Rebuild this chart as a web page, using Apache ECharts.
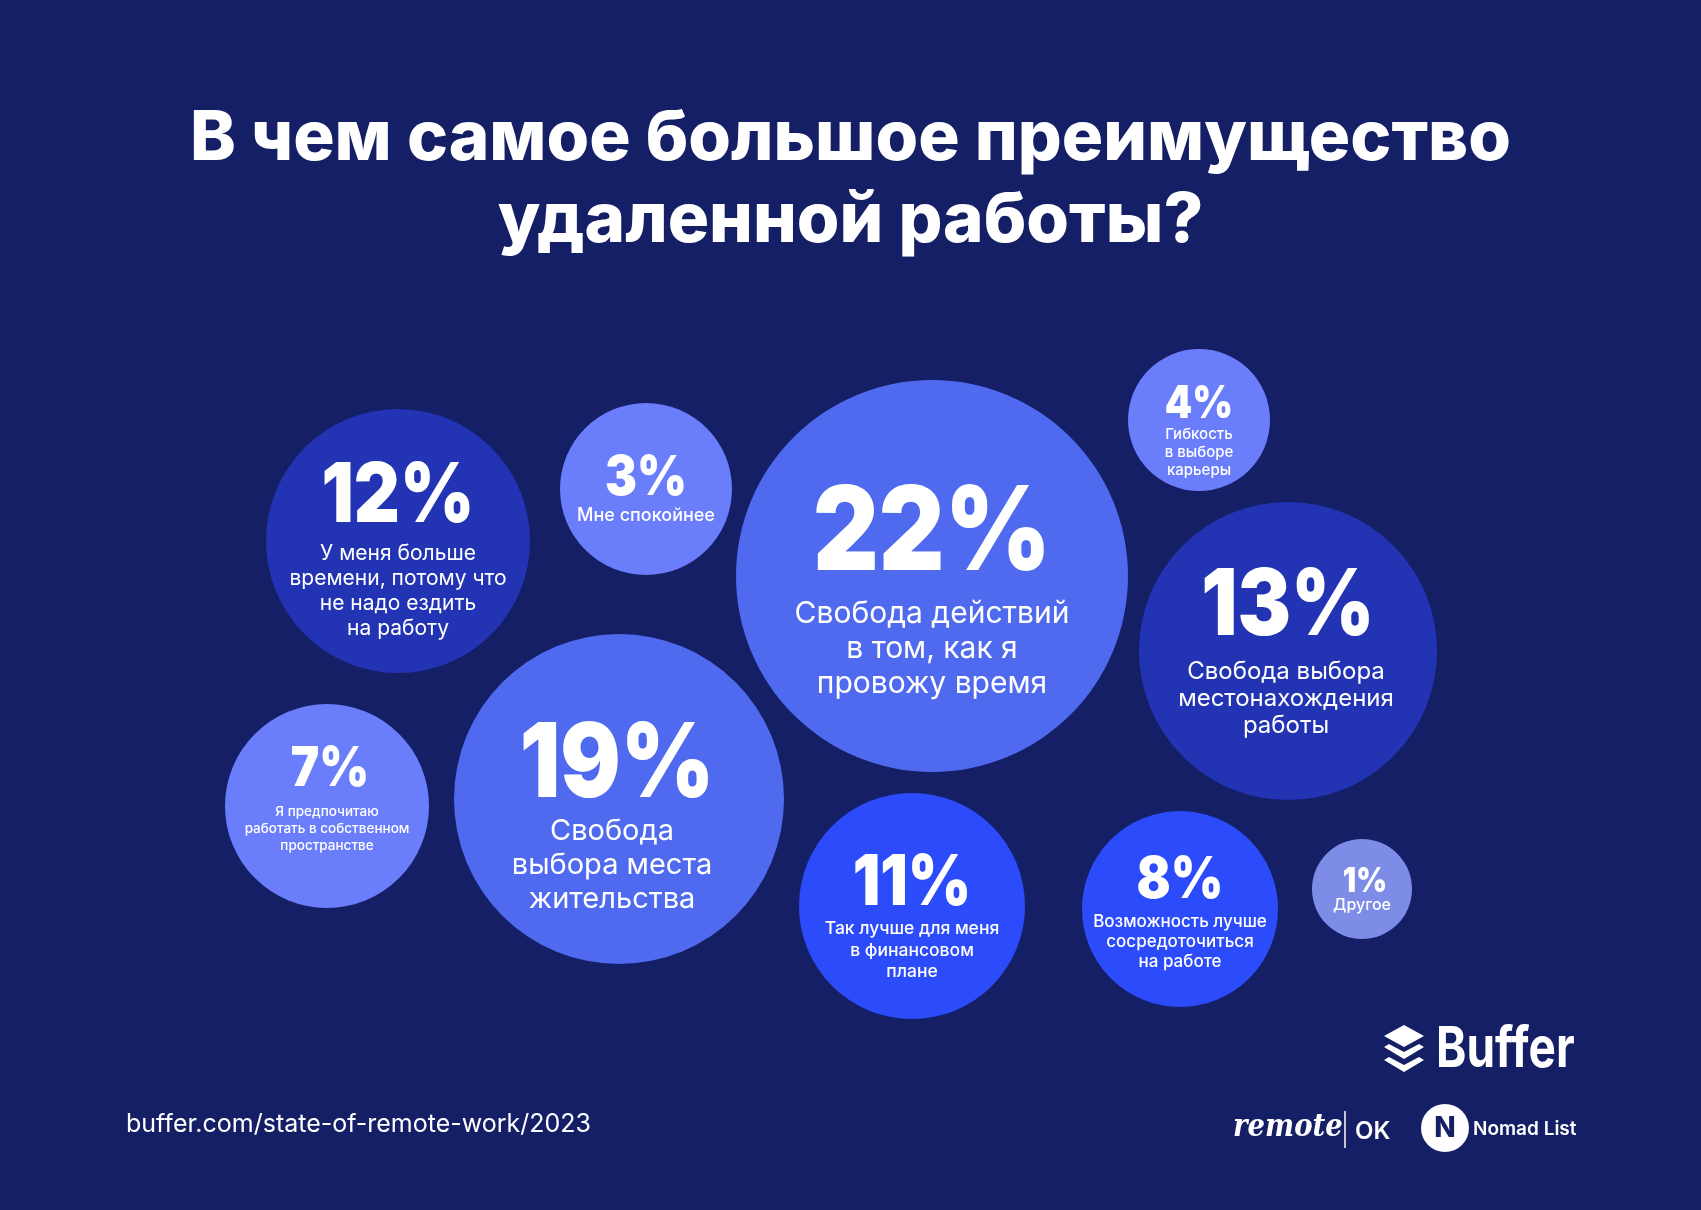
<!DOCTYPE html>
<html>
<head>
<meta charset="utf-8">
<script src="https://cdn.jsdelivr.net/npm/echarts@6/dist/echarts.min.js"></script>
<style>
html,body{margin:0;padding:0;background:#141f66;}
#chart{width:1701px;height:1210px;}
</style>
</head>
<body>
<div id="chart"></div>
<script>
// ---- data ----
const values = [22, 19, 13, 12, 11, 8, 7, 3, 4, 1];
const descriptions = [
  ['Свобода действий', 'в том, как я', 'провожу время'],
  ['Свобода', 'выбора места', 'жительства'],
  ['Свобода выбора', 'местонахождения', 'работы'],
  ['У меня больше', 'времени, потому что', 'не надо ездить', 'на работу'],
  ['Так лучше для меня', 'в финансовом', 'плане'],
  ['Возможность лучше', 'сосредоточиться', 'на работе'],
  ['Я предпочитаю', 'работать в собственном', 'пространстве'],
  ['Мне спокойнее'],
  ['Гибкость', 'в выборе', 'карьеры'],
  ['Другое']
];
const titleText = 'В чем самое большое преимущество\nудаленной работы?';
const sourceText = 'buffer.com/state-of-remote-work/2023';

// ---- layout (bubble placement in axis units, styling) ----
const bubbleX = [932, 619, 1288, 398, 912, 1180, 327, 646, 1199, 1362];
const bubbleY = [576, 799, 651, 541, 906, 909, 806, 489, 420, 889];
const bubbleR = [196, 165, 149, 132, 113, 98, 102, 86, 71, 50];
const bubbleColor = ['#4f6aef', '#4f6aef', '#2234b4', '#2234b4', '#2c4cfc', '#2c4cfc', '#6a7efc', '#6a7efc', '#6a7efc', '#7d8ce6'];
const pctFont = [117, 103, 92, 82, 70, 58, 55, 55, 45, 34];
const pctDy = [-41, -33, -44, -44, -22, -28, -37, -11, -16, -7];
const pctDx = [0, -2, 0, 0, 0, 0, 3, 0, 0, 3];
const descFont = [30, 29, 24, 21, 17.5, 17, 13.5, 18, 15, 16];
const descWeight = [400, 400, 400, 400, 500, 500, 500, 500, 500, 500];
const descDy = [38, 32, 21, 13, 23, 13, 6, 27, 14, 16];
const descDx = [0, -7, -2, 0, 0, 0, 0, 0, 0, 0];
const descStep = [35, 34, 27, 25, 21.5, 20, 17, 0, 18, 0];

const FONT = 'Inter, "Noto Sans", sans-serif';

const seriesData = values.map((v, i) => [bubbleX[i], bubbleY[i], bubbleR[i], v]);

const chart = echarts.init(document.getElementById('chart'), null, {renderer: 'canvas'});

function renderItem(params, api) {
  const i = params.dataIndex;
  const c = api.coord([api.value(0), api.value(1)]);
  const r = api.size([api.value(2), 0])[0];
  const children = [{
    type: 'circle',
    shape: {cx: c[0], cy: c[1], r: r},
    style: {fill: bubbleColor[i]}
  }, {
    type: 'text',
    x: c[0] + pctDx[i], y: c[1] + pctDy[i],
    scaleX: 0.87,
    style: {
      text: api.value(3) + '%',
      x: 0, y: 0,
      fill: '#ffffff',
      font: '900 ' + pctFont[i] + 'px ' + FONT,
      textAlign: 'center', textVerticalAlign: 'middle',
      align: 'center', verticalAlign: 'middle'
    }
  }];
  descriptions[i].forEach((line, k) => {
    children.push({
      type: 'text',
      x: c[0] + descDx[i], y: c[1] + descDy[i] + k * descStep[i],
      style: {
        text: line,
        fill: '#ffffff',
        font: descWeight[i] + ' ' + descFont[i] + 'px ' + FONT,
        textAlign: 'center', textVerticalAlign: 'middle',
        align: 'center', verticalAlign: 'middle'
      }
    });
  });
  return {type: 'group', children: children};
}

const option = {
  backgroundColor: '#141f66',
  animation: false,
  title: {
    text: titleText,
    left: 'center',
    top: 93,
    textStyle: {
      color: '#ffffff',
      fontFamily: FONT,
      fontWeight: 800,
      fontSize: 69,
      lineHeight: 82
    }
  },
  grid: {left: 0, right: 0, top: 0, bottom: 0},
  xAxis: {type: 'value', min: 0, max: 1701, show: false},
  yAxis: {type: 'value', min: 0, max: 1210, inverse: true, show: false},
  series: [{
    type: 'custom',
    renderItem: renderItem,
    data: seriesData,
    clip: false
  }],
  graphic: [
    {type: 'text', x: 126, y: 1124, style: {text: sourceText, fill: '#ffffff', font: '400 25px ' + FONT, textVerticalAlign: 'middle', verticalAlign: 'middle'}},
    // Buffer logo
    {type: 'polygon', shape: {points: [[1404, 1025], [1424, 1036], [1404, 1047], [1384, 1036]]}, style: {fill: '#ffffff'}},
    {type: 'polygon', shape: {points: [[1384, 1047], [1389, 1044], [1404, 1052], [1419, 1044], [1424, 1047], [1404, 1059]]}, style: {fill: '#ffffff'}},
    {type: 'polygon', shape: {points: [[1384, 1060], [1389, 1057], [1404, 1065], [1419, 1057], [1424, 1060], [1404, 1072]]}, style: {fill: '#ffffff'}},
    {type: 'text', x: 1436, y: 1050, scaleX: 0.82, style: {text: 'Buffer', x: 0, y: 0, fill: '#ffffff', font: '700 56px ' + FONT, textVerticalAlign: 'middle', verticalAlign: 'middle'}},
    // remote | OK
    {type: 'text', x: 1233, y: 1128, scaleX: 0.86, style: {text: 'remote', x: 0, y: 0, fill: '#ffffff', font: 'italic 700 32px "DejaVu Serif", serif', textVerticalAlign: 'middle', verticalAlign: 'middle'}},
    {type: 'line', shape: {x1: 1345, y1: 1111, x2: 1345, y2: 1148}, style: {stroke: '#ffffff', lineWidth: 1.5}},
    {type: 'text', x: 1355, y: 1132, style: {text: 'OK', fill: '#ffffff', font: '600 24px ' + FONT, textVerticalAlign: 'middle', verticalAlign: 'middle'}},
    // Nomad List
    {type: 'circle', shape: {cx: 1445, cy: 1128, r: 24}, style: {fill: '#ffffff'}},
    {type: 'text', x: 1445, y: 1129, style: {text: 'N', fill: '#141f66', font: '800 28px ' + FONT, textAlign: 'center', align: 'center', textVerticalAlign: 'middle', verticalAlign: 'middle'}},
    {type: 'text', x: 1473, y: 1129, style: {text: 'Nomad List', fill: '#ffffff', font: '600 19px ' + FONT, textVerticalAlign: 'middle', verticalAlign: 'middle'}}
  ]
};
chart.setOption(option);
</script>
</body>
</html>
